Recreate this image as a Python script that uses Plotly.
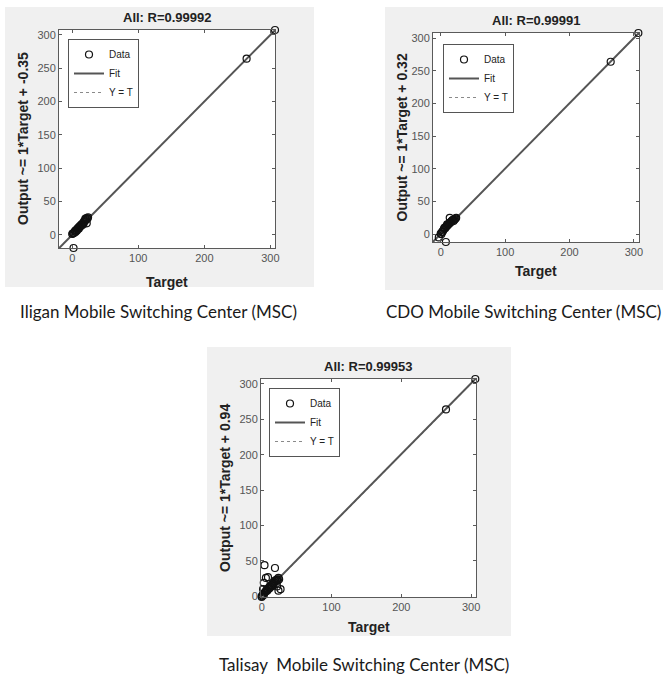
import plotly.graph_objects as go

# ---------------- data ----------------
TITLES = ["All: R=0.99992", "All: R=0.99991", "All: R=0.99953"]
CAPTIONS = ["Iligan Mobile Switching Center (MSC)",
            "CDO Mobile Switching Center (MSC)",
            "Talisay  Mobile Switching Center (MSC)"]
FIT_SLOPES = [1, 1, 1]
FIT_INTERCEPTS = [-0.35, 0.32, 0.94]
X_TICKS = [0, 100, 200, 300]
Y_TICKS = [0, 50, 100, 150, 200, 250, 300]
X_LABEL = "Target"

ILIGAN_TARGET = [0, 1, 2, 3, 4, 5, 5, 6, 7, 8, 8, 9, 10, 10, 11, 12, 12, 13, 14, 15, 15,
                 16, 17, 18, 18, 19, 20, 20, 21, 22, 23, 24, 2, 22, 264, 307]
ILIGAN_OUTPUT = [1, 2, 2, 3, 5, 4, 6, 7, 6, 9, 8, 10, 9, 11, 12, 13, 12, 14, 15, 16, 14,
                 17, 16, 19, 20, 21, 22, 24, 22, 25, 24, 26, -20, 17, 264, 307]

CDO_TARGET = [-3, 0, 1, 2, 3, 4, 5, 6, 7, 8, 9, 10, 10, 11, 12, 13, 14, 15, 16, 17, 18,
              19, 20, 21, 22, 23, 24, 8, 14, 264, 307]
CDO_OUTPUT = [-5, 1, 0, 3, 4, 6, 8, 10, 9, 11, 12, 13, 15, 14, 15, 16, 17, 18, 19, 20, 21,
              22, 20, 22, 23, 24, 25, -12, 25, 264, 308]

TALISAY_TARGET = [0, 0, 1, 2, 3, 4, 5, 6, 7, 8, 9, 10, 11, 12, 13, 14, 15, 16, 17, 18, 19,
                  20, 21, 22, 23, 24, 25, 4, 19, 6, 9, 3, 27, 24, 22, 2, 264, 306]
TALISAY_OUTPUT = [0, -1, 1, 3, 2, 5, 6, 7, 9, 8, 10, 12, 11, 14, 13, 16, 15, 18, 17, 20, 22,
                  21, 23, 24, 22, 26, 24, 44, 40, 26, 27, 19, 10, 8, 14, 10, 264, 307]

TARGETS = [ILIGAN_TARGET, CDO_TARGET, TALISAY_TARGET]
OUTPUTS = [ILIGAN_OUTPUT, CDO_OUTPUT, TALISAY_OUTPUT]

# ---------------- layout geometry (pixels) ----------------
W, H = 663, 684
def px(x):
    return x / W
def py(y):
    return 1 - y / H

PANELS = [
    dict(bg=(5, 7, 314, 287), ax=(59, 30, 275, 248), leg=(68, 39), ylab_dx=36, xlab_dy=34, cap=(158, 311)),
    dict(bg=(385, 7, 663, 290), ax=(433, 33, 639, 242), leg=(443, 44), ylab_dx=31, xlab_dy=29, cap=(523, 311)),
    dict(bg=(207, 347, 511, 636), ax=(261, 379, 476, 597), leg=(269, 388), ylab_dx=36, xlab_dy=30, cap=(364, 664)),
]

GREY_BG = "#f0f0f0"
AX_COLOR = "#5a5a5a"
TICK_COLOR = "#555555"
FONT = "Liberation Sans, Arial, sans-serif"

fig = go.Figure()
shapes = []
annotations = []
layout_axes = {}

for i, p in enumerate(PANELS):
    sfx = "" if i == 0 else str(i + 1)
    xa, ya = "x" + sfx, "y" + sfx
    leg = "legend" if i == 0 else "legend" + str(i + 1)
    t, o = TARGETS[i], OUTPUTS[i]
    lo = min(min(t), min(o))
    hi = max(max(t), max(o))
    m, b = FIT_SLOPES[i], FIT_INTERCEPTS[i]

    # Y = T (dotted)
    fig.add_trace(go.Scatter(x=[lo, hi], y=[lo, hi], mode="lines", name="Y = T",
                             line=dict(color="#8a8a8a", width=1, dash="dot"),
                             xaxis=xa, yaxis=ya, legend=leg, legendrank=3, hoverinfo="skip"))
    # Fit line
    fig.add_trace(go.Scatter(x=[lo, hi], y=[m * lo + b, m * hi + b], mode="lines", name="Fit",
                             line=dict(color="#555555", width=2),
                             xaxis=xa, yaxis=ya, legend=leg, legendrank=2))
    # Data
    fig.add_trace(go.Scatter(x=t, y=o, mode="markers", name="Data",
                             marker=dict(symbol="circle-open", size=7, color="#111111",
                                         line=dict(width=1.2)),
                             xaxis=xa, yaxis=ya, legend=leg, legendrank=1, cliponaxis=False))

    x0, y0, x1, y1 = p["ax"]
    axis_common = dict(range=[lo, hi], showgrid=False, zeroline=False, showline=True,
                       linecolor=AX_COLOR, linewidth=1, mirror="ticks", ticks="inside",
                       ticklen=3, tickcolor=AX_COLOR,
                       tickfont=dict(family=FONT, size=11, color=TICK_COLOR))
    layout_axes["xaxis" + sfx] = dict(axis_common, domain=[px(x0), px(x1)], anchor=ya,
                                      tickvals=X_TICKS)
    layout_axes["yaxis" + sfx] = dict(axis_common, domain=[py(y1), py(y0)], anchor=xa,
                                      tickvals=Y_TICKS)

    # grey panel background
    bx0, by0, bx1, by1 = p["bg"]
    shapes.append(dict(type="rect", xref="paper", yref="paper", x0=px(bx0), x1=px(bx1),
                       y0=py(by1), y1=py(by0), fillcolor=GREY_BG, line=dict(width=0),
                       layer="below"))
    # white plot area
    shapes.append(dict(type="rect", xref="paper", yref="paper", x0=px(x0), x1=px(x1),
                       y0=py(y1), y1=py(y0), fillcolor="white", line=dict(width=0),
                       layer="below"))

    cx = (x0 + x1) / 2
    cy = (y0 + y1) / 2
    annotations.append(dict(text="<b>" + TITLES[i] + "</b>", xref="paper", yref="paper",
                            x=px(cx), y=py(y0 - 3), xanchor="center", yanchor="bottom",
                            showarrow=False, font=dict(family=FONT, size=13, color="#222")))
    annotations.append(dict(text="<b>" + X_LABEL + "</b>", xref="paper", yref="paper",
                            x=px(cx), y=py(y1 + p["xlab_dy"]), xanchor="center", yanchor="middle",
                            showarrow=False, font=dict(family=FONT, size=14, color="#222")))
    ylab = "Output ~= {}*Target + {}".format(m, b)
    annotations.append(dict(text="<b>" + ylab + "</b>", xref="paper", yref="paper",
                            x=px(x0 - p["ylab_dx"]), y=py(cy), xanchor="center", yanchor="middle",
                            textangle=-90, showarrow=False,
                            font=dict(family=FONT, size=14, color="#222")))
    annotations.append(dict(text=CAPTIONS[i], xref="paper", yref="paper",
                            x=px(p["cap"][0]), y=py(p["cap"][1]), xanchor="center",
                            yanchor="middle", showarrow=False,
                            font=dict(family="Lato, sans-serif", size=17, color="#1a1a1a")))

    lx, ly = p["leg"]
    layout_axes[leg] = dict(x=px(lx), y=py(ly), xanchor="left", yanchor="top",
                            xref="paper", yref="paper",
                            bgcolor="white", bordercolor="#555555", borderwidth=1,
                            font=dict(family=FONT, size=10, color="#222"),
                            tracegroupgap=0, itemwidth=30, traceorder="normal")

fig.update_layout(template="none", width=W, height=H, margin=dict(l=0, r=0, t=0, b=0),
                  paper_bgcolor="white", plot_bgcolor="rgba(0,0,0,0)",
                  showlegend=True, shapes=shapes, annotations=annotations,
                  **layout_axes)

fig.write_html("out.html", config={"displayModeBar": False},
               post_script="document.body.style.margin='0';document.body.style.overflow='hidden';")
